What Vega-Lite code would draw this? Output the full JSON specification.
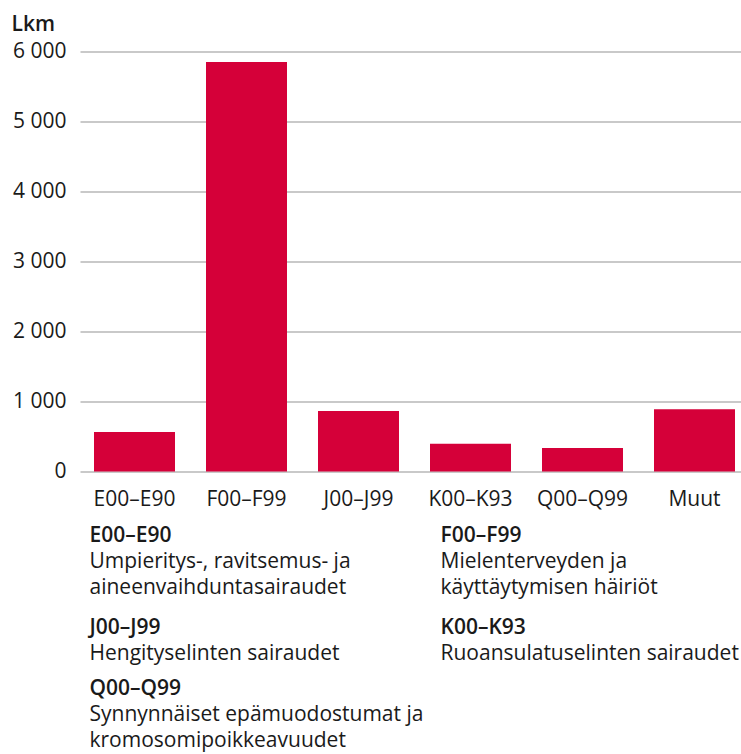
{
  "$schema": "https://vega.github.io/schema/vega-lite/v6.json",
  "width": 661,
  "height": 420,
  "autosize": {"type": "none"},
  "padding": {"left": 80, "top": 51.5, "right": 0, "bottom": 282.5},
  "background": "white",
  "config": {
    "view": {"stroke": null},
    "font": "Open Sans",
    "text": {"font": "Open Sans", "fontSize": 21, "color": "#1a1a1a"}
  },
  "datasets": {
    "bars": [
      {"koodi": "E00–E90", "lkm": 565},
      {"koodi": "F00–F99", "lkm": 5850},
      {"koodi": "J00–J99", "lkm": 865},
      {"koodi": "K00–K93", "lkm": 395},
      {"koodi": "Q00–Q99", "lkm": 335},
      {"koodi": "Muut", "lkm": 890}
    ],
    "selite": [
      {"col": 0, "line": 0, "code": "E00–E90", "desc": "Umpieritys-, ravitsemus- ja\naineenvaihduntasairaudet"},
      {"col": 1, "line": 0, "code": "F00–F99", "desc": "Mielenterveyden ja\nkäyttäytymisen häiriöt"},
      {"col": 0, "line": 3, "code": "J00–J99", "desc": "Hengityselinten sairaudet"},
      {"col": 1, "line": 3, "code": "K00–K93", "desc": "Ruoansulatuselinten sairaudet"},
      {"col": 0, "line": 5, "code": "Q00–Q99", "desc": "Synnynnäiset epämuodostumat ja\nkromosomipoikkeavuudet"}
    ]
  },
  "layer": [
    {
      "data": {"name": "bars"},
      "mark": {"type": "bar", "color": "#d50039"},
      "encoding": {
        "x": {
          "field": "koodi", "type": "nominal", "sort": null,
          "scale": {"paddingInner": 0.2768, "paddingOuter": 0.0893, "align": 0.7},
          "axis": {
            "title": null, "labelAngle": 0, "domain": false, "ticks": false, "tickSize": 0,
            "labelPadding": 17, "labelFont": "Open Sans", "labelFontSize": 21, "labelColor": "#1a1a1a"
          }
        },
        "y": {
          "field": "lkm", "type": "quantitative",
          "scale": {"domain": [0, 6000], "nice": false},
          "axis": {
            "values": [0, 1000, 2000, 3000, 4000, 5000, 6000],
            "labelExpr": "replace(format(datum.value, ',.0f'), ',', ' ')",
            "domain": false, "ticks": false, "tickSize": 0, "labelPadding": 14,
            "labelFont": "Open Sans", "labelFontSize": 21, "labelColor": "#1a1a1a",
            "grid": true, "gridColor": "#949494", "gridWidth": 1.2,
            "title": "Lkm", "titleAngle": 0, "titleAlign": "left", "titleBaseline": "alphabetic",
            "titleX": -69, "titleY": -21, "titleFont": "Open Sans", "titleFontSize": 21,
            "titleFontWeight": 600, "titleColor": "#1a1a1a"
          }
        }
      }
    },
    {
      "data": {"name": "selite"},
      "mark": {"type": "text", "align": "left", "baseline": "alphabetic", "fontWeight": 600},
      "encoding": {
        "x": {"field": "col", "type": "quantitative", "scale": {"domain": [-0.02707, 1.85612], "nice": false, "zero": false}, "axis": null},
        "y": {"field": "line", "type": "quantitative", "scale": {"domain": [-16.03, -2.304], "nice": false, "zero": false, "reverse": true}, "axis": null},
        "text": {"field": "code", "type": "nominal"}
      }
    },
    {
      "data": {"name": "selite"},
      "mark": {"type": "text", "align": "left", "baseline": "alphabetic", "lineBreak": "\n", "lineHeight": 26, "dy": 26},
      "encoding": {
        "x": {"field": "col", "type": "quantitative", "scale": {"domain": [-0.02707, 1.85612], "nice": false, "zero": false}, "axis": null},
        "y": {"field": "line", "type": "quantitative", "scale": {"domain": [-16.03, -2.304], "nice": false, "zero": false, "reverse": true}, "axis": null},
        "text": {"field": "desc", "type": "nominal"}
      }
    }
  ],
  "resolve": {"scale": {"x": "independent", "y": "independent"}}
}
